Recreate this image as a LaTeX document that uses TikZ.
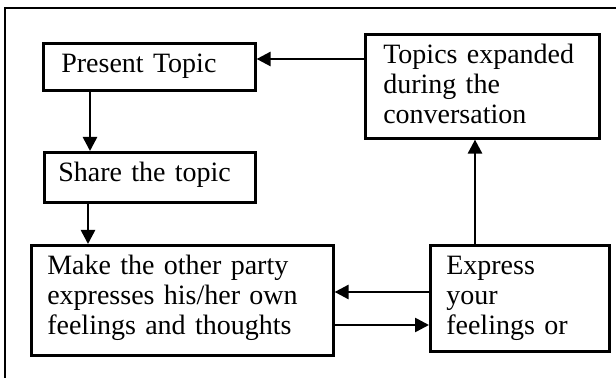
\documentclass[tikz,border=0pt]{standalone}
\usepackage{fontspec}
\setmainfont{Liberation Serif}
\usepackage{tikz}
\usetikzlibrary{arrows.meta}
\tikzset{>={Triangle[length=7pt, width=7pt]}}
\tikzstyle{topicbox} = [rectangle, draw = black, line width = 1.3pt, anchor = north west, align = left, inner ysep = 4.9pt, text height = 9.6pt, font = \fontsize{14pt}{15pt}\selectfont]
\tikzstyle{flow} = [->, draw = black, line width = 1.3pt]

\begin{document}
\begin{tikzpicture}[x = 0.5pt, y = -0.5pt]
\useasboundingbox (0, 0) rectangle (616, 378);
\draw [line width = 1.1pt] (5, 378) -- (5, 8) -- (616, 8);
\node [topicbox, inner xsep = 9pt, text width = 88pt, text depth = 4.1pt] (P) at (42, 42) {Present Topic};
\node [topicbox, inner xsep = 7pt, text width = 91.5pt, text depth = 5.6pt] (S) at (43, 151) {Share the topic};
\node [topicbox, inner xsep = 8pt, text width = 135pt, text depth = 35.6pt] (M) at (30, 244) {Make the other party\\expresses his/her own\\feelings and thoughts};
\node [topicbox, inner xsep = 9pt, text width = 99pt, text depth = 32.6pt] (T) at (364, 33) {Topics expanded\\during the\\conversation};
\node [topicbox, inner xsep = 8pt, text width = 73.5pt, text depth = 33.6pt] (E) at (429, 244) {Express\\your\\feelings or};
\draw [flow] (T.west |- 0, 59) to (P.east |- 0, 59);
\draw [flow] (P.south -| 90, 0) to (S.north -| 90, 0);
\draw [flow] (S.south -| 88, 0) to (M.north -| 88, 0);
\draw [flow] (E.north -| 475, 0) to (T.south -| 475, 0);
\draw [flow] (E.west |- 0, 292) to (M.east |- 0, 292);
\draw [flow] (M.east |- 0, 325) to (E.west |- 0, 325);
\end{tikzpicture}
\end{document}
